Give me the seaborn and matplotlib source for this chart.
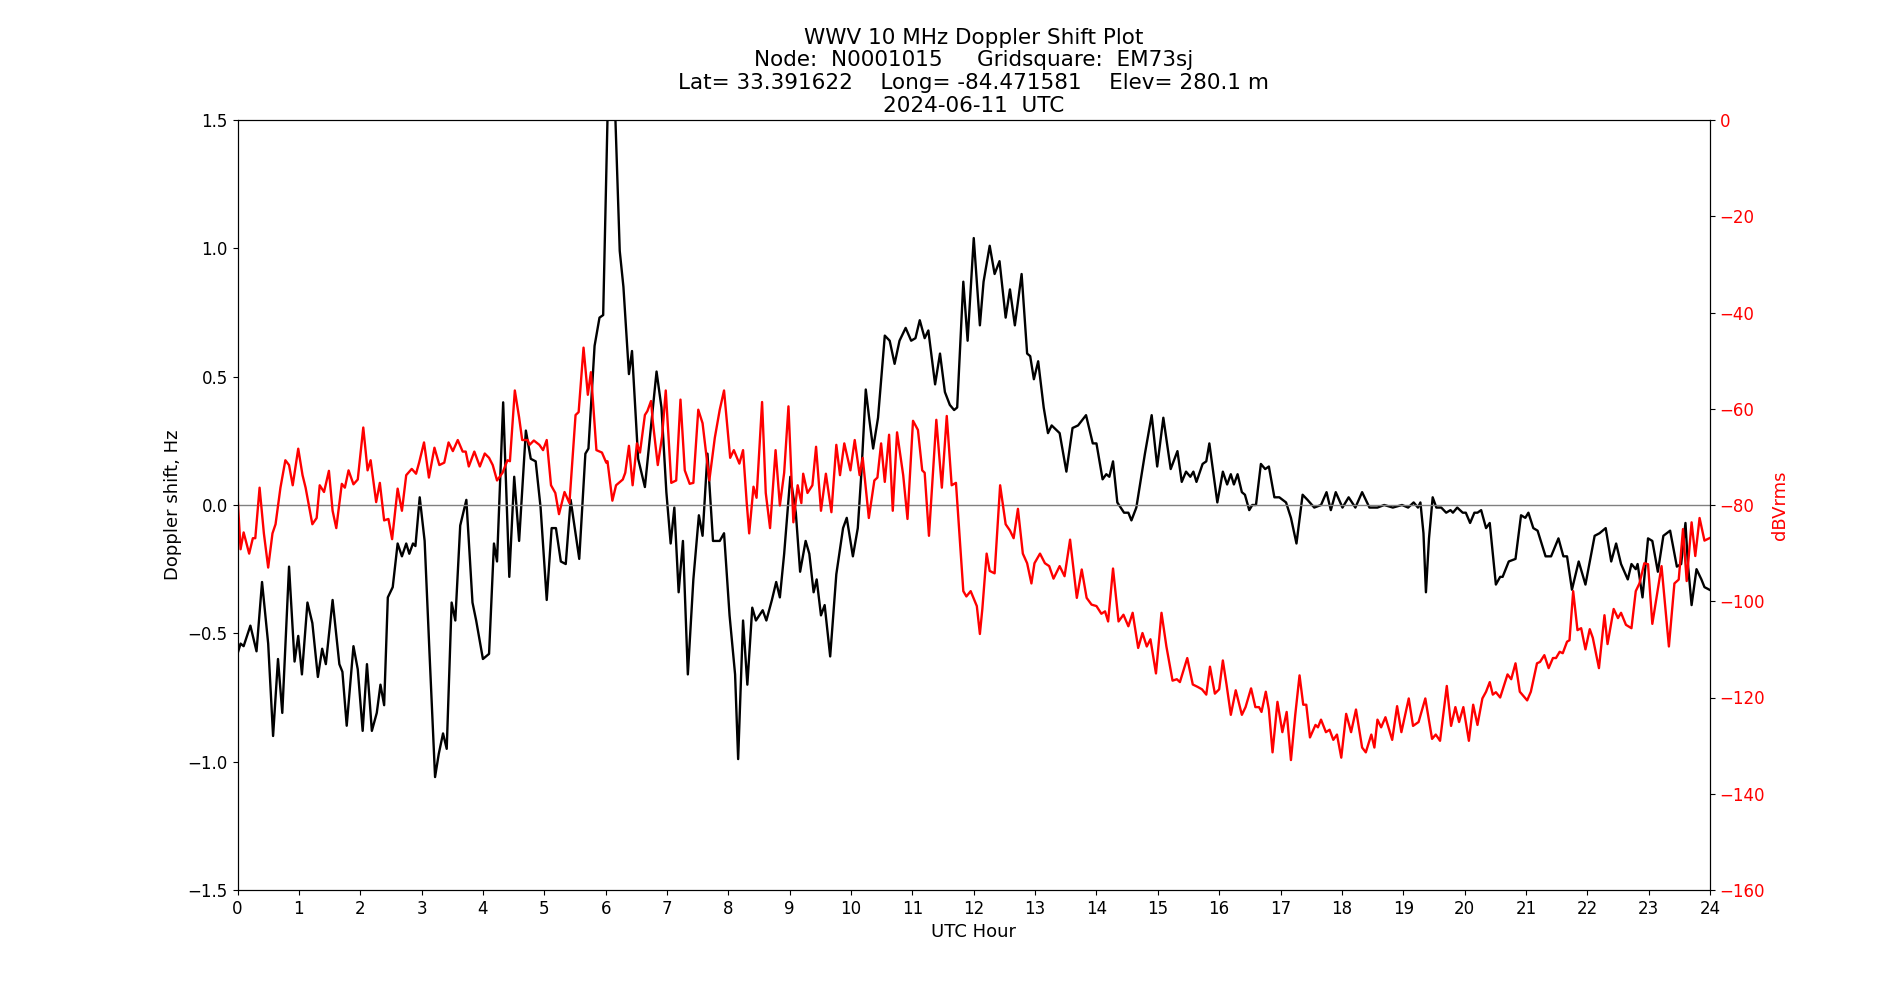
import matplotlib
matplotlib.use("Agg")
import matplotlib.pyplot as plt
import seaborn as sns

# Doppler shift trace (black)
doppler_hour = [
    0.00, 0.05, 0.10, 0.21, 0.31, 0.40, 0.50, 0.58, 0.66, 0.73, 0.84, 0.93, 0.99,
    1.05, 1.14, 1.22, 1.31, 1.38, 1.44, 1.55, 1.66, 1.71, 1.78, 1.89, 1.96,
    2.04, 2.11, 2.19, 2.27, 2.33, 2.39, 2.45, 2.53, 2.61, 2.68, 2.75, 2.80, 2.86, 2.90, 2.97,
    3.05, 3.13, 3.22, 3.28, 3.35, 3.41, 3.49, 3.55, 3.63, 3.73, 3.83, 3.89,
    4.00, 4.10, 4.18, 4.23, 4.33, 4.43, 4.51, 4.59, 4.70, 4.78, 4.86, 4.94,
    5.04, 5.12, 5.19, 5.27, 5.35, 5.43, 5.57, 5.67, 5.72, 5.82, 5.90, 5.96,
    6.03, 6.09, 6.16, 6.23, 6.29, 6.38, 6.43, 6.53, 6.64, 6.72, 6.83, 6.91, 6.99,
    7.06, 7.12, 7.19, 7.26, 7.34, 7.43, 7.52, 7.58, 7.66, 7.75, 7.86, 7.93,
    8.02, 8.11, 8.16, 8.24, 8.31, 8.39, 8.45, 8.56, 8.62, 8.71, 8.78, 8.84, 8.91,
    9.01, 9.10, 9.17, 9.26, 9.32, 9.39, 9.44, 9.51, 9.57, 9.66, 9.76, 9.87, 9.93,
    10.03, 10.11, 10.17, 10.24, 10.30, 10.36, 10.44, 10.55, 10.63, 10.71, 10.79, 10.89, 10.98,
    11.05, 11.12, 11.20, 11.26, 11.37, 11.45, 11.53, 11.61, 11.68, 11.73, 11.83, 11.90,
    12.00, 12.10, 12.16, 12.26, 12.34, 12.42, 12.52, 12.59, 12.67, 12.78, 12.87, 12.92, 12.98,
    13.05, 13.14, 13.21, 13.27, 13.40, 13.51, 13.61, 13.70, 13.83, 13.94,
    14.00, 14.10, 14.16, 14.21, 14.27, 14.34, 14.45, 14.52, 14.57, 14.65, 14.79, 14.90, 14.99,
    15.09, 15.21, 15.32, 15.39, 15.46, 15.53, 15.58, 15.63, 15.73, 15.79, 15.84, 15.97,
    16.06, 16.13, 16.19, 16.24, 16.30, 16.37, 16.42, 16.49, 16.54, 16.60, 16.68, 16.75, 16.81, 16.90, 16.98,
    17.09, 17.17, 17.26, 17.36, 17.44, 17.55, 17.66, 17.75, 17.82, 17.90,
    18.01, 18.11, 18.22, 18.33, 18.45, 18.58, 18.69, 18.83, 18.98,
    19.08, 19.17, 19.24, 19.28, 19.33, 19.37, 19.42, 19.48, 19.54, 19.62, 19.70, 19.77, 19.81, 19.88, 19.97,
    20.02, 20.09, 20.16, 20.21, 20.27, 20.35, 20.41, 20.46, 20.51, 20.58, 20.62, 20.72, 20.83, 20.92, 20.99,
    21.04, 21.12, 21.19, 21.32, 21.41, 21.53, 21.61, 21.67, 21.75, 21.86, 21.97,
    22.12, 22.20, 22.30, 22.39, 22.47, 22.55, 22.66, 22.72, 22.79, 22.82, 22.90, 22.99,
    23.06, 23.15, 23.24, 23.35, 23.46, 23.53, 23.60, 23.64, 23.70, 23.78, 23.86, 23.91, 23.99,
]
doppler_hz = [
    -0.58, -0.54, -0.55, -0.47, -0.57, -0.30, -0.54, -0.90, -0.60, -0.81, -0.24, -0.61, -0.51,
    -0.66, -0.38, -0.46, -0.67, -0.56, -0.62, -0.37, -0.62, -0.65, -0.86, -0.55, -0.64,
    -0.88, -0.62, -0.88, -0.81, -0.70, -0.78, -0.36, -0.32, -0.15, -0.20, -0.15, -0.19, -0.15, -0.16, 0.03,
    -0.14, -0.58, -1.06, -0.97, -0.89, -0.95, -0.38, -0.45, -0.08, 0.02, -0.38, -0.45,
    -0.60, -0.58, -0.15, -0.22, 0.40, -0.28, 0.11, -0.14, 0.29, 0.18, 0.17, -0.01,
    -0.37, -0.09, -0.09, -0.22, -0.23, 0.02, -0.21, 0.20, 0.22, 0.62, 0.73, 0.74,
    1.50, 1.75, 1.50, 0.99, 0.85, 0.51, 0.60, 0.18, 0.07, 0.26, 0.52, 0.38, 0.05,
    -0.15, -0.01, -0.34, -0.14, -0.66, -0.29, -0.04, -0.12, 0.20, -0.14, -0.14, -0.11,
    -0.43, -0.66, -0.99, -0.45, -0.70, -0.40, -0.45, -0.41, -0.45, -0.37, -0.30, -0.36, -0.19,
    0.11, -0.03, -0.26, -0.14, -0.19, -0.34, -0.29, -0.43, -0.39, -0.59, -0.27, -0.09, -0.05,
    -0.20, -0.09, 0.13, 0.45, 0.33, 0.22, 0.34, 0.66, 0.64, 0.55, 0.64, 0.69, 0.64,
    0.65, 0.72, 0.65, 0.68, 0.47, 0.59, 0.44, 0.39, 0.37, 0.38, 0.87, 0.64,
    1.04, 0.70, 0.87, 1.01, 0.90, 0.95, 0.73, 0.84, 0.70, 0.90, 0.59, 0.58, 0.49,
    0.56, 0.38, 0.28, 0.31, 0.28, 0.13, 0.30, 0.31, 0.35, 0.24,
    0.24, 0.10, 0.12, 0.11, 0.17, 0.01, -0.03, -0.03, -0.06, -0.01, 0.20, 0.35, 0.15,
    0.34, 0.14, 0.21, 0.09, 0.13, 0.11, 0.13, 0.09, 0.16, 0.17, 0.24, 0.01,
    0.13, 0.08, 0.12, 0.08, 0.12, 0.05, 0.04, -0.02, 0.00, 0.00, 0.16, 0.14, 0.15, 0.03, 0.03,
    0.01, -0.05, -0.15, 0.04, 0.02, -0.01, 0.00, 0.05, -0.02, 0.05,
    -0.01, 0.03, -0.01, 0.05, -0.01, -0.01, 0.00, -0.01, 0.00,
    -0.01, 0.01, -0.01, 0.01, -0.11, -0.34, -0.13, 0.03, -0.01, -0.01, -0.03, -0.02, -0.03, -0.01, -0.03,
    -0.03, -0.07, -0.03, -0.03, -0.02, -0.09, -0.07, -0.19, -0.31, -0.28, -0.28, -0.22, -0.21, -0.04, -0.05,
    -0.03, -0.09, -0.10, -0.20, -0.20, -0.13, -0.20, -0.20, -0.33, -0.22, -0.31,
    -0.12, -0.11, -0.09, -0.22, -0.15, -0.23, -0.29, -0.23, -0.25, -0.23, -0.36, -0.13,
    -0.14, -0.26, -0.12, -0.10, -0.24, -0.23, -0.07, -0.23, -0.39, -0.25, -0.29, -0.32, -0.33,
]

# Received power trace (red)
power_hour = [
    0.00, 0.05, 0.10, 0.19, 0.25, 0.29, 0.36, 0.43, 0.50, 0.57, 0.62, 0.70, 0.78, 0.84, 0.90, 0.99,
    1.06, 1.11, 1.22, 1.29, 1.34, 1.41, 1.49, 1.55, 1.61, 1.70, 1.75, 1.81, 1.89, 1.96,
    2.05, 2.12, 2.17, 2.26, 2.32, 2.39, 2.46, 2.52, 2.61, 2.68, 2.75, 2.84, 2.91, 2.96,
    3.04, 3.12, 3.21, 3.29, 3.37, 3.44, 3.51, 3.59, 3.67, 3.72, 3.77, 3.86, 3.95,
    4.03, 4.10, 4.16, 4.23, 4.32, 4.40, 4.44, 4.52, 4.59, 4.64, 4.73, 4.76, 4.83, 4.92, 4.98,
    5.04, 5.11, 5.18, 5.24, 5.33, 5.41, 5.51, 5.56, 5.64, 5.71, 5.76, 5.85, 5.94,
    6.01, 6.03, 6.11, 6.17, 6.28, 6.32, 6.38, 6.44, 6.51, 6.56, 6.64, 6.68, 6.74, 6.77, 6.85, 6.92, 6.98,
    7.07, 7.15, 7.22, 7.29, 7.37, 7.43, 7.51, 7.58, 7.69, 7.78, 7.86, 7.93,
    8.03, 8.09, 8.18, 8.24, 8.30, 8.34, 8.41, 8.46, 8.55, 8.61, 8.68, 8.77, 8.84, 8.91, 8.98,
    9.06, 9.13, 9.19, 9.22, 9.29, 9.37, 9.43, 9.51, 9.59, 9.68, 9.76, 9.82, 9.89, 9.99,
    10.06, 10.14, 10.19, 10.29, 10.38, 10.43, 10.49, 10.55, 10.62, 10.68, 10.75, 10.85, 10.92,
    11.01, 11.09, 11.16, 11.20, 11.27, 11.39, 11.48, 11.56, 11.64, 11.71, 11.83, 11.88, 11.95,
    12.05, 12.10, 12.14, 12.21, 12.26, 12.34, 12.43, 12.52, 12.59, 12.65, 12.72, 12.80, 12.87, 12.94, 12.99,
    13.08, 13.16, 13.23, 13.30, 13.40, 13.48, 13.57, 13.68, 13.76, 13.84, 13.92,
    14.00, 14.08, 14.14, 14.19, 14.27, 14.36, 14.44, 14.52, 14.59, 14.68, 14.75, 14.82, 14.88, 14.97,
    15.06, 15.14, 15.24, 15.31, 15.36, 15.48, 15.57, 15.65, 15.72, 15.79, 15.85, 15.93,
    16.00, 16.06, 16.12, 16.19, 16.27, 16.37, 16.43, 16.52, 16.59, 16.65, 16.69, 16.76, 16.81, 16.87, 16.95,
    17.03, 17.10, 17.17, 17.24, 17.31, 17.37, 17.42, 17.48, 17.57, 17.61, 17.66, 17.74, 17.80, 17.86, 17.92, 17.99,
    18.07, 18.15, 18.23, 18.33, 18.39, 18.48, 18.53, 18.58, 18.64, 18.71, 18.82, 18.90, 18.97,
    19.09, 19.16, 19.25, 19.36, 19.47, 19.53, 19.60, 19.71, 19.78, 19.85, 19.91, 19.98,
    20.07, 20.14, 20.21, 20.29, 20.35, 20.41, 20.46, 20.51, 20.58, 20.70, 20.76, 20.83, 20.90,
    21.02, 21.08, 21.18, 21.23, 21.30, 21.37, 21.44, 21.49, 21.55, 21.60, 21.67, 21.71, 21.77, 21.84, 21.90, 21.97,
    22.04, 22.09, 22.19, 22.28, 22.33, 22.43, 22.50, 22.55, 22.63, 22.72, 22.79, 22.85, 22.93, 22.99,
    23.06, 23.21, 23.33, 23.42, 23.49, 23.56, 23.62, 23.70, 23.76, 23.83, 23.91, 23.99,
]
power_dbv = [
    -78.0, -89.2, -85.7, -90.1, -86.9, -86.9, -76.4, -85.9, -93.0, -85.9, -84.0, -76.4, -70.7, -71.7, -75.9, -68.3,
    -73.8, -76.4, -84.0, -82.7, -75.9, -77.3, -72.9, -81.2, -84.8, -75.6, -76.4, -72.8, -75.7, -74.7,
    -63.9, -72.8, -70.7, -79.4, -75.4, -83.2, -82.9, -87.1, -76.6, -81.2, -73.8, -72.5, -73.5, -71.2,
    -67.0, -74.3, -68.1, -71.7, -71.2, -67.0, -68.8, -66.5, -68.9, -68.9, -72.0, -68.9, -72.0,
    -69.3, -70.2, -71.7, -74.9, -73.3, -70.7, -70.9, -56.2, -61.8, -66.5, -66.5, -67.5, -66.6, -67.5, -68.6,
    -66.5, -75.9, -77.5, -81.9, -77.3, -79.6, -61.3, -60.7, -47.3, -57.1, -52.4, -68.6, -69.1,
    -71.2, -70.9, -79.1, -75.9, -74.7, -73.3, -67.7, -75.9, -67.2, -69.1, -61.3, -60.5, -58.4, -62.8, -71.7, -65.8, -56.2,
    -75.4, -74.9, -58.1, -72.8, -75.6, -75.4, -60.2, -63.0, -74.9, -66.0, -60.2, -56.2,
    -70.2, -68.6, -71.4, -68.6, -79.6, -85.9, -76.2, -78.5, -58.6, -77.5, -84.8, -68.6, -80.1, -73.3, -59.5,
    -83.6, -75.9, -79.6, -73.5, -77.5, -75.9, -67.9, -81.2, -73.5, -81.5, -67.5, -73.8, -67.2, -72.8,
    -66.5, -73.8, -70.2, -82.7, -74.9, -74.3, -67.2, -75.2, -65.4, -81.2, -64.9, -73.8, -82.9,
    -62.5, -64.4, -72.8, -73.3, -86.4, -62.3, -76.4, -61.5, -75.9, -75.4, -97.9, -99.0, -97.9,
    -101.0, -106.8, -101.6, -90.1, -93.7, -94.2, -75.9, -84.0, -85.3, -86.9, -80.8, -90.1, -92.1, -96.3, -92.1,
    -90.1, -92.1, -92.7, -95.3, -92.7, -94.8, -87.2, -99.3, -93.4, -99.3, -100.7,
    -101.0, -102.6, -102.1, -104.2, -93.2, -104.2, -102.8, -105.2, -102.4, -109.7, -106.6, -109.4, -107.9, -115.0,
    -102.4, -109.4, -116.5, -116.2, -116.8, -111.8, -117.3, -117.8, -118.3, -119.4, -113.6, -119.2,
    -118.3, -112.3, -117.3, -123.6, -118.5, -123.6, -122.0, -118.1, -122.0, -122.0, -123.0, -118.8, -122.5, -131.4, -120.9,
    -127.2, -123.0, -133.0, -123.6, -115.4, -121.5, -121.5, -128.3, -125.7, -126.2, -124.6, -127.2, -126.7, -128.8, -127.7, -132.5,
    -123.4, -127.2, -122.5, -130.4, -131.4, -127.7, -130.4, -124.6, -126.2, -124.1, -128.8, -121.8, -127.2,
    -120.2, -125.9, -125.1, -120.2, -128.6, -127.7, -129.0, -117.6, -125.9, -122.0, -125.1, -122.0,
    -129.0, -121.5, -125.7, -120.2, -118.8, -116.8, -119.4, -118.9, -120.0, -115.2, -116.2, -112.9, -118.8,
    -120.6, -118.8, -112.9, -112.6, -111.2, -113.9, -111.8, -111.8, -110.5, -110.8, -108.4, -108.1, -97.9, -106.0, -105.6, -110.0,
    -105.8, -107.6, -113.9, -102.9, -108.9, -101.6, -103.5, -102.4, -104.9, -105.6, -97.9, -96.3, -92.1, -92.3,
    -104.7, -92.7, -109.4, -96.3, -95.5, -85.0, -95.8, -83.6, -90.6, -82.7, -87.4, -86.9,
]

hour_ticks = list(range(0, 25))

plt.rcParams["font.size"] = 12

fig, ax = plt.subplots(figsize=(19, 10), dpi=100)

sns.lineplot(x=doppler_hour, y=doppler_hz, ax=ax, color="black", linewidth=1.7,
             sort=False, estimator=None)
ax.axhline(y=0, color="grey", linewidth=1)
ax.set_xlim(0, 24)
ax.set_ylim(-1.5, 1.5)
ax.set_xticks(hour_ticks)
ax.set_xlabel("UTC Hour", fontsize=13)
ax.set_ylabel("Doppler shift, Hz", fontsize=13)
ax.set_title("WWV 10 MHz Doppler Shift Plot\n"
             "Node:  N0001015     Gridsquare:  EM73sj\n"
             "Lat= 33.391622    Long= -84.471581    Elev= 280.1 m\n"
             "2024-06-11  UTC", fontsize=15.5, linespacing=1.17)

# second axis for the received power
ax2 = ax.twinx()
sns.lineplot(x=power_hour, y=power_dbv, ax=ax2, color="red", linewidth=1.7,
             sort=False, estimator=None)
ax2.set_ylim(-160, 0)
ax2.set_ylabel("dBVrms", color="red", fontsize=13)
ax2.tick_params(axis="y", labelcolor="red")

plt.savefig("out.png", dpi=100)
